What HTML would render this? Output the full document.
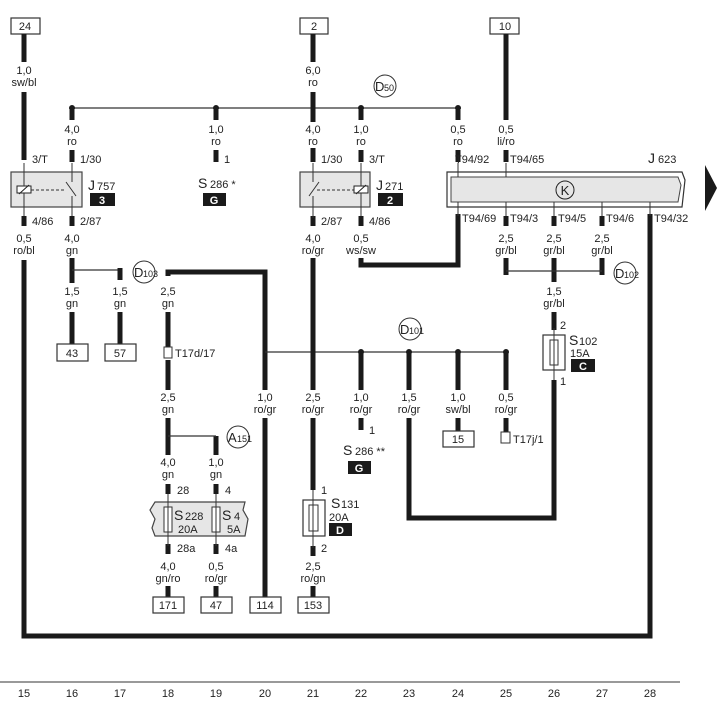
<!DOCTYPE html>
<html><head><meta charset="utf-8"><style>
html,body{margin:0;padding:0;background:#fff}
svg{display:block}
text{font-family:"Liberation Sans",sans-serif;font-size:11px;fill:#222}
.c{text-anchor:middle}
.w{stroke:#1a1a1a;stroke-width:5;fill:none}
.t{stroke:#333;stroke-width:1.2;fill:none}
.bx{fill:#fff;stroke:#333;stroke-width:1.2}
.cb{fill:#e6e6e6;stroke:#444;stroke-width:1.2}
.blk{fill:#1a1a1a}
.wt{fill:#fff;font-weight:bold;font-size:11px;text-anchor:middle}
</style></head><body>
<svg width="720" height="718" viewBox="0 0 720 718" xmlns="http://www.w3.org/2000/svg">
<rect class="bx" x="11" y="18" width="29" height="16"/><text class="c" x="25" y="30">24</text>
<rect class="bx" x="300" y="18" width="28" height="16"/><text class="c" x="314" y="30">2</text>
<rect class="bx" x="490" y="18" width="29" height="16"/><text class="c" x="505" y="30">10</text>

<line class="t" x1="72" y1="108" x2="458" y2="108"/>
<g class="blk"><circle cx="72" cy="108" r="3"/><circle cx="216" cy="108" r="3"/><circle cx="361" cy="108" r="3"/><circle cx="458" cy="108" r="3"/></g>
<circle cx="385" cy="86" r="11" fill="none" stroke="#333"/><text x="375" y="91" style="font-size:13px">D</text><text x="384" y="91" style="font-size:9px">50</text>

<path class="w" d="M24 34V62M24 92V160"/>
<text class="c" x="24" y="74">1,0</text><text class="c" x="24" y="86">sw/bl</text>
<text x="32" y="163">3/T</text>
<rect class="cb" x="11" y="172" width="71" height="35"/>
<rect x="17" y="186" width="14" height="7" fill="#fff" stroke="#222"/><line x1="19" y1="194" x2="29" y2="185" stroke="#222"/>
<line x1="31" y1="190" x2="66" y2="190" stroke="#333" stroke-dasharray="3,2"/>
<line x1="24" y1="163" x2="24" y2="186" stroke="#333"/><line x1="24" y1="193" x2="24" y2="218" stroke="#333"/>
<line x1="72" y1="163" x2="72" y2="182" stroke="#333"/><line x1="66" y1="182" x2="76" y2="196" stroke="#333"/><line x1="72" y1="196" x2="72" y2="218" stroke="#333"/>
<text x="88" y="190" style="font-size:14px">J</text><text x="97" y="190">757</text>
<rect class="blk" x="90" y="193" width="25" height="13"/><text class="wt" x="102" y="204">3</text>
<path class="w" d="M24 216V226"/><text x="32" y="225">4/86</text>
<text class="c" x="24" y="242">0,5</text><text class="c" x="24" y="254">ro/bl</text>
<path class="w" d="M24 260V636H650V214"/>

<path class="w" d="M72 110V120M72 150V162M72 216V226M72 258V283M72 312V345"/>
<text class="c" x="72" y="133">4,0</text><text class="c" x="72" y="145">ro</text>
<text x="80" y="163">1/30</text><text x="80" y="225">2/87</text>
<text class="c" x="72" y="242">4,0</text><text class="c" x="72" y="254">gn</text>
<line class="t" x1="72" y1="270" x2="120" y2="270"/>
<path class="w" d="M120 268V280M120 312V345"/>
<text class="c" x="72" y="295">1,5</text><text class="c" x="72" y="307">gn</text>
<text class="c" x="120" y="295">1,5</text><text class="c" x="120" y="307">gn</text>
<circle cx="144" cy="272" r="11" fill="none" stroke="#333"/><text x="134" y="277" style="font-size:13px">D</text><text x="143" y="277" style="font-size:9px">103</text>
<rect class="bx" x="57" y="344" width="31" height="17"/><text class="c" x="72" y="357">43</text>
<rect class="bx" x="105" y="344" width="31" height="17"/><text class="c" x="120" y="357">57</text>

<path class="w" d="M216 110V120M216 150V162"/>
<text class="c" x="216" y="133">1,0</text><text class="c" x="216" y="145">ro</text>
<text x="224" y="163">1</text>
<text x="198" y="188" style="font-size:14px">S</text><text x="210" y="188">286 *</text>
<rect class="blk" x="203" y="193" width="23" height="13"/><text class="wt" x="214" y="204">G</text>

<path class="w" d="M168 276V272H265V597"/>
<path class="w" d="M168 312V350M168 360V390M168 418V455M216 436V455"/>
<text class="c" x="168" y="295">2,5</text><text class="c" x="168" y="307">gn</text>
<rect x="164" y="347" width="8" height="11" fill="#fff" stroke="#333"/><text x="175" y="357">T17d/17</text>
<text class="c" x="168" y="401">2,5</text><text class="c" x="168" y="413">gn</text>
<line class="t" x1="168" y1="436" x2="216" y2="436"/>
<circle cx="238" cy="437" r="11" fill="none" stroke="#333"/><text x="228" y="442" style="font-size:13px">A</text><text x="237" y="442" style="font-size:9px">151</text>
<text class="c" x="168" y="466">4,0</text><text class="c" x="168" y="478">gn</text>
<text class="c" x="216" y="466">1,0</text><text class="c" x="216" y="478">gn</text>
<path class="w" d="M168 484V494M216 484V494M168 544V554M216 544V554M168 586V597M216 586V597"/>
<text x="177" y="494">28</text><text x="225" y="494">4</text>
<path class="cb" d="M155 502H245L243 510L248 519L245 536H155L152 528L155 519L150 510Z"/>
<rect x="164" y="507" width="8" height="25" fill="#fff" stroke="#333"/><rect x="212" y="507" width="8" height="25" fill="#fff" stroke="#333"/>
<line x1="168" y1="494" x2="168" y2="546" stroke="#333"/><line x1="216" y1="494" x2="216" y2="546" stroke="#333"/>
<text x="174" y="520" style="font-size:14px">S</text><text x="185" y="520">228</text><text x="178" y="533">20A</text>
<text x="222" y="520" style="font-size:14px">S</text><text x="234" y="520">4</text><text x="227" y="533">5A</text>
<text x="177" y="552">28a</text><text x="225" y="552">4a</text>
<text class="c" x="168" y="570">4,0</text><text class="c" x="168" y="582">gn/ro</text>
<text class="c" x="216" y="570">0,5</text><text class="c" x="216" y="582">ro/gr</text>
<rect class="bx" x="153" y="597" width="31" height="16"/><text class="c" x="168" y="609">171</text>
<rect class="bx" x="201" y="597" width="31" height="16"/><text class="c" x="216" y="609">47</text>
<rect fill="#fff" x="253" y="390" width="24" height="28"/>
<text class="c" x="265" y="401">1,0</text><text class="c" x="265" y="413">ro/gr</text>
<rect class="bx" x="250" y="597" width="31" height="16"/><text class="c" x="265" y="609">114</text>

<line class="t" x1="265" y1="352" x2="506" y2="352"/>
<circle cx="410" cy="329" r="11" fill="none" stroke="#333"/><text x="400" y="334" style="font-size:13px">D</text><text x="409" y="334" style="font-size:9px">101</text>

<path class="w" d="M313 34V62M313 92V162M313 216V226M313 258V390M313 418V490M313 546V556M313 586V597"/>
<rect fill="#fff" x="303" y="122" width="20" height="26"/>
<text class="c" x="313" y="74">6,0</text><text class="c" x="313" y="86">ro</text>
<text class="c" x="313" y="133">4,0</text><text class="c" x="313" y="145">ro</text>
<text x="321" y="163">1/30</text>
<rect class="cb" x="300" y="172" width="70" height="35"/>
<line x1="313" y1="163" x2="313" y2="182" stroke="#333"/><line x1="319" y1="182" x2="309" y2="196" stroke="#333"/><line x1="313" y1="196" x2="313" y2="218" stroke="#333"/>
<line x1="317" y1="190" x2="354" y2="190" stroke="#333" stroke-dasharray="3,2"/>
<rect x="354" y="186" width="14" height="7" fill="#fff" stroke="#222"/><line x1="356" y1="194" x2="366" y2="185" stroke="#222"/>
<line x1="361" y1="163" x2="361" y2="186" stroke="#333"/><line x1="361" y1="193" x2="361" y2="218" stroke="#333"/>
<text x="376" y="190" style="font-size:14px">J</text><text x="385" y="190">271</text>
<rect class="blk" x="378" y="193" width="25" height="13"/><text class="wt" x="390" y="204">2</text>
<text x="321" y="225">2/87</text>
<text class="c" x="313" y="242">4,0</text><text class="c" x="313" y="254">ro/gr</text>
<text class="c" x="313" y="401">2,5</text><text class="c" x="313" y="413">ro/gr</text>
<text x="321" y="494">1</text>
<rect class="bx" x="303" y="500" width="22" height="36"/><rect x="309" y="505" width="9" height="26" fill="#fff" stroke="#333"/>
<line x1="313" y1="490" x2="313" y2="548" stroke="#333"/>
<text x="331" y="508" style="font-size:14px">S</text><text x="341" y="508">131</text><text x="329" y="521">20A</text>
<rect class="blk" x="329" y="523" width="23" height="13"/><text class="wt" x="340" y="534">D</text>
<text x="321" y="552">2</text>
<text class="c" x="313" y="570">2,5</text><text class="c" x="313" y="582">ro/gn</text>
<rect class="bx" x="298" y="597" width="31" height="16"/><text class="c" x="313" y="609">153</text>

<path class="w" d="M361 110V120M361 150V162M361 216V226M361 258V265H458V214"/>
<text class="c" x="361" y="133">1,0</text><text class="c" x="361" y="145">ro</text>
<text x="369" y="163">3/T</text><text x="369" y="225">4/86</text>
<text class="c" x="361" y="242">0,5</text><text class="c" x="361" y="254">ws/sw</text>
<path class="w" d="M361 352V390M361 418V430"/>
<text class="c" x="361" y="401">1,0</text><text class="c" x="361" y="413">ro/gr</text>
<text x="369" y="434">1</text>
<text x="343" y="455" style="font-size:14px">S</text><text x="355" y="455">286 **</text>
<rect class="blk" x="348" y="461" width="23" height="13"/><text class="wt" x="359" y="472">G</text>

<path class="w" d="M409 352V390M409 418V518H554V380"/>
<text class="c" x="409" y="401">1,5</text><text class="c" x="409" y="413">ro/gr</text>
<path class="w" d="M458 110V120M458 150V162M458 352V390M458 418V432"/>
<text class="c" x="458" y="133">0,5</text><text class="c" x="458" y="145">ro</text>
<text class="c" x="458" y="401">1,0</text><text class="c" x="458" y="413">sw/bl</text>
<rect class="bx" x="443" y="431" width="31" height="16"/><text class="c" x="458" y="443">15</text>
<path class="w" d="M506 34V120M506 150V162M506 352V390M506 418V432"/>
<text class="c" x="506" y="133">0,5</text><text class="c" x="506" y="145">li/ro</text>
<text class="c" x="506" y="401">0,5</text><text class="c" x="506" y="413">ro/gr</text>
<rect x="501" y="432" width="9" height="11" fill="#fff" stroke="#333"/><text x="513" y="443">T17j/1</text>
<g class="blk"><circle cx="361" cy="352" r="3"/><circle cx="409" cy="352" r="3"/><circle cx="458" cy="352" r="3"/><circle cx="506" cy="352" r="3"/></g>

<text x="455" y="163">T94/92</text><text x="510" y="163">T94/65</text>
<text x="648" y="163" style="font-size:14px">J</text><text x="658" y="163">623</text>
<path d="M447 172H682L685 180L682 207H447Z" fill="#fff" stroke="#333" stroke-width="1.2"/>
<path d="M451 177H678L681 185L678 202H451Z" fill="#e6e6e6" stroke="#444"/>
<circle cx="565" cy="190" r="9" fill="none" stroke="#222"/><text class="c" x="565" y="195" style="font-size:13px">K</text>
<path d="M705 165L717 188L705 211Z" fill="#1a1a1a"/>
<g stroke="#333"><line x1="458" y1="163" x2="458" y2="177"/><line x1="506" y1="163" x2="506" y2="177"/><line x1="458" y1="202" x2="458" y2="216"/><line x1="506" y1="202" x2="506" y2="216"/><line x1="554" y1="202" x2="554" y2="216"/><line x1="602" y1="202" x2="602" y2="216"/><line x1="650" y1="202" x2="650" y2="216"/></g>
<text x="462" y="222">T94/69</text><text x="510" y="222">T94/3</text><text x="558" y="222">T94/5</text><text x="606" y="222">T94/6</text><text x="654" y="222">T94/32</text>
<path class="w" d="M506 216V226M554 216V226M602 216V226M506 258V275M554 258V282M602 258V275M554 312V330"/>
<text class="c" x="506" y="242">2,5</text><text class="c" x="506" y="254">gr/bl</text>
<text class="c" x="554" y="242">2,5</text><text class="c" x="554" y="254">gr/bl</text>
<text class="c" x="602" y="242">2,5</text><text class="c" x="602" y="254">gr/bl</text>
<line class="t" x1="506" y1="271" x2="602" y2="271"/>
<circle cx="625" cy="273" r="11" fill="none" stroke="#333"/><text x="615" y="278" style="font-size:13px">D</text><text x="624" y="278" style="font-size:9px">102</text>
<text class="c" x="554" y="295">1,5</text><text class="c" x="554" y="307">gr/bl</text>
<text x="560" y="329">2</text>
<rect class="bx" x="543" y="335" width="22" height="35"/><rect x="550" y="340" width="8" height="25" fill="#fff" stroke="#333"/>
<line x1="554" y1="328" x2="554" y2="380" stroke="#333"/>
<text x="569" y="345" style="font-size:14px">S</text><text x="579" y="345">102</text><text x="570" y="357">15A</text>
<rect class="blk" x="571" y="359" width="24" height="13"/><text class="wt" x="583" y="370">C</text>
<text x="560" y="385">1</text>

<line x1="0" y1="682" x2="680" y2="682" stroke="#333" stroke-width="1"/>
<g class="c">
<text x="24" y="697">15</text><text x="72" y="697">16</text><text x="120" y="697">17</text><text x="168" y="697">18</text><text x="216" y="697">19</text><text x="265" y="697">20</text><text x="313" y="697">21</text><text x="361" y="697">22</text><text x="409" y="697">23</text><text x="458" y="697">24</text><text x="506" y="697">25</text><text x="554" y="697">26</text><text x="602" y="697">27</text><text x="650" y="697">28</text>
</g>
</svg>
</body></html>
